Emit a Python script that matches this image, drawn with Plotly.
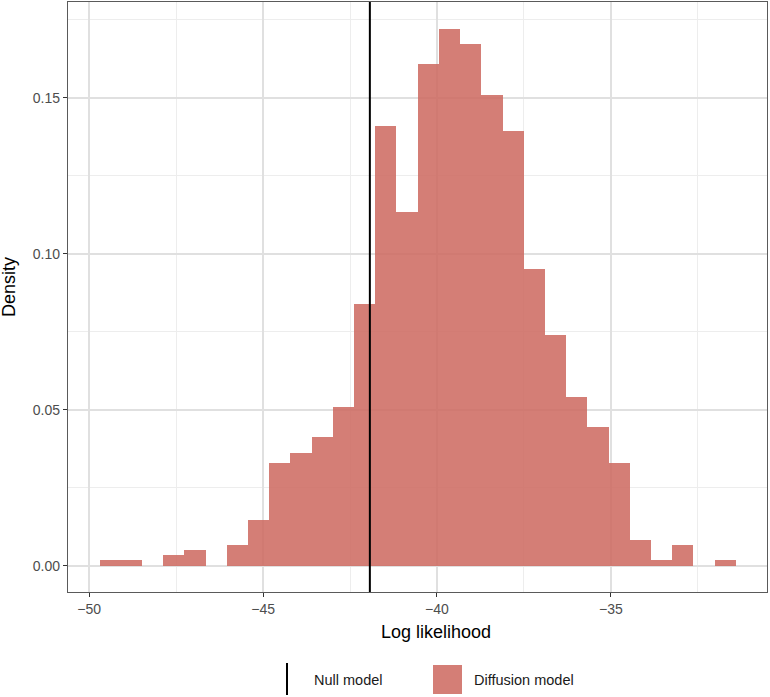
import plotly.graph_objects as go

# ---- data ----
bin_start = -49.70
bin_width = 0.6097
density = [0.0017, 0.0017, 0.0, 0.0033, 0.0050, 0.0, 0.0066, 0.0147, 0.0328, 0.0361,
           0.0411, 0.0509, 0.0838, 0.1409, 0.1133, 0.1607, 0.1721, 0.1673, 0.1509, 0.1393,
           0.0952, 0.0739, 0.0542, 0.0444, 0.0328, 0.0082, 0.0017, 0.0066, 0.0, 0.0017]
null_model_ll = -41.93
x_ticks = [-50, -45, -40, -35]
x_tick_text = ["\u221250", "\u221245", "\u221240", "\u221235"]
y_ticks = [0.00, 0.05, 0.10, 0.15]
legend_labels = ["Null model", "Diffusion model"]

centers = [bin_start + (i + 0.5) * bin_width for i in range(len(density))]

BAR_COLOR = "rgba(204,103,94,0.85)"
FONT = "Liberation Sans, Arial, Helvetica, sans-serif"

fig = go.Figure()
fig.add_trace(go.Bar(
    x=centers, y=density, width=[bin_width] * len(density),
    marker=dict(color=BAR_COLOR, line=dict(width=0)),
    name=legend_labels[1], showlegend=False,
))

# null model vertical line
fig.add_shape(type="line", x0=null_model_ll, x1=null_model_ll, xref="x",
              y0=0, y1=1, yref="paper", line=dict(color="black", width=2), layer="above")

# helpers: pixel -> paper coords (plot area 68..767 x 2..592)
W, H = 699.0, 590.0
def px(x):
    return (x - 68) / W
def py(y):
    return (592 - y) / H

# manual legend (ggplot style, bottom)
fig.add_shape(type="line", xref="paper", yref="paper", x0=px(287), x1=px(287),
              y0=py(695), y1=py(663), line=dict(color="black", width=2))
fig.add_shape(type="rect", xref="paper", yref="paper", x0=px(433), x1=px(462),
              y0=py(694), y1=py(665), fillcolor=BAR_COLOR, line=dict(width=0))
fig.add_annotation(xref="paper", yref="paper", x=px(312), y=py(680), text=legend_labels[0],
                   showarrow=False, xanchor="left", yanchor="middle",
                   font=dict(size=14.5, color="#1a1a1a", family=FONT))
fig.add_annotation(xref="paper", yref="paper", x=px(472), y=py(680), text=legend_labels[1],
                   showarrow=False, xanchor="left", yanchor="middle",
                   font=dict(size=14.5, color="#1a1a1a", family=FONT))

# axis titles
fig.add_annotation(xref="paper", yref="paper", x=px(436), y=py(632), text="Log likelihood",
                   showarrow=False, xanchor="center", yanchor="middle",
                   font=dict(size=18, color="#000000", family=FONT))
fig.add_annotation(xref="paper", yref="paper", x=px(9), y=py(287), text="Density",
                   showarrow=False, xanchor="center", yanchor="middle", textangle=-90,
                   font=dict(size=18, color="#000000", family=FONT))

fig.update_layout(
    width=770, height=697,
    margin=dict(l=68, r=3, t=2, b=105, autoexpand=False),
    plot_bgcolor="white", paper_bgcolor="white",
    font=dict(family=FONT, color="#4d4d4d"),
    bargap=0, showlegend=False,
)
common = dict(
    showgrid=True, gridcolor="#e0e0e0", gridwidth=1.5,
    showline=True, linecolor="#5a5a5a", linewidth=1.3, mirror=True,
    ticks="outside", ticklen=4, tickcolor="#333333", tickwidth=1.3,
    tickfont=dict(size=14, color="#4d4d4d", family=FONT),
    zeroline=False, automargin=False,
)
fig.update_xaxes(
    range=[-50.61, -30.51], tickvals=x_ticks, ticktext=x_tick_text,
    minor=dict(dtick=2.5, tick0=-50, showgrid=True, gridcolor="#ededed", gridwidth=1.2),
    **common,
)
fig.update_yaxes(
    range=[-0.00843, 0.1807], tickvals=y_ticks, tickformat=".2f",
    minor=dict(dtick=0.025, tick0=0, showgrid=True, gridcolor="#ededed", gridwidth=1.2),
    **common,
)

fig.write_html("out.html", config={"displayModeBar": False},
               post_script="document.body.style.margin='0';document.body.style.overflow='hidden';")
